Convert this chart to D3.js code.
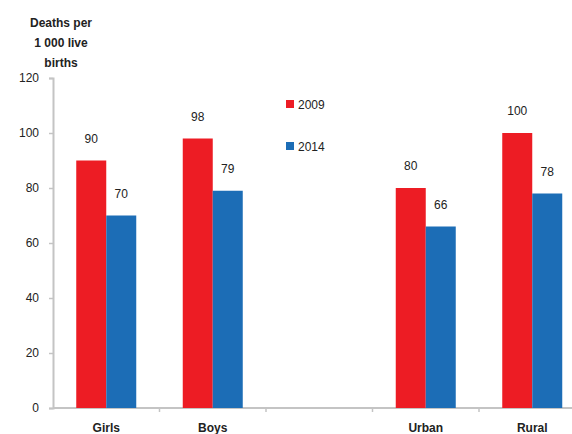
<!DOCTYPE html>
<html><head><meta charset="utf-8">
<script src="https://cdn.jsdelivr.net/npm/d3@7"></script>
<style>body{margin:0;background:#fff}svg{display:block}text{font-family:"Liberation Sans",Arial,sans-serif;fill:#222}</style>
</head><body>
<svg id="c" width="572" height="434"></svg>
<script>
const categories = ["Girls", "Boys", "", "Urban", "Rural"];
const series = ["2009", "2014"];
const values2009 = [90, 98, null, 80, 100];
const values2014 = [70, 79, null, 66, 78];
const yTicks = [0, 20, 40, 60, 80, 100, 120];
const colors = ["#ED1C24", "#1C6DB6"];
const titleLines = ["Deaths per", "1 000 live", "births"];

const svg = d3.select("#c");
const x0 = 53, x1 = 585.5, yTop = 78, yBot = 408;
const x = d3.scaleBand().domain(categories.map((c,i)=>i)).range([x0, x1]).padding(0);
const y = d3.scaleLinear().domain([0, 120]).range([yBot, yTop]);
const barW = 30;
const xs = d3.scaleBand().domain(series).range([-barW, barW]);

// y axis
const yAxis = d3.axisLeft(y).tickValues(yTicks).tickSize(4).tickPadding(10).tickFormat(d3.format("d"));
const gy = svg.append("g").attr("transform", `translate(${x0},0)`).call(yAxis);
gy.select(".domain").attr("stroke", "#c4c4c4").attr("stroke-width", 2);
gy.selectAll(".tick line").attr("stroke", "#c4c4c4").attr("stroke-width", 1.5);
gy.selectAll(".tick text").attr("font-size", 12).style("font-family", '"Liberation Sans",Arial,sans-serif').attr("fill", "#222");

// x axis
const gx = svg.append("g").attr("transform", `translate(0,${yBot})`);
gx.append("line").attr("x1", x0).attr("x2", x1).attr("stroke", "#c4c4c4").attr("stroke-width", 2);
gx.selectAll(".xt").data(categories.map((c,i)=>i)).join("line")
  .attr("x1", d => x(d) + x.bandwidth()).attr("x2", d => x(d) + x.bandwidth())
  .attr("y1", 0).attr("y2", 4).attr("stroke", "#c4c4c4").attr("stroke-width", 1.5);
gx.selectAll(".xl").data(categories).join("text")
  .attr("x", (d,i) => x(i) + x.bandwidth()/2).attr("y", 23.5)
  .attr("text-anchor", "middle").attr("font-size", 12).attr("font-weight", "bold").text(d => d);

// bars
const data = [values2009, values2014];
series.forEach((s, si) => {
  const vals = data[si];
  const g = svg.append("g");
  const items = vals.map((v,i)=>({v,i})).filter(d => d.v != null);
  g.selectAll("rect").data(items).join("rect")
    .attr("x", d => x(d.i) + x.bandwidth()/2 + xs(s))
    .attr("y", d => y(d.v)).attr("width", xs.bandwidth())
    .attr("height", d => yBot - y(d.v)).attr("fill", colors[si]);
  g.selectAll("text").data(items).join("text")
    .attr("x", d => x(d.i) + x.bandwidth()/2 + xs(s) + xs.bandwidth()/2)
    .attr("y", d => y(d.v) - 18).attr("text-anchor", "middle")
    .attr("font-size", 12).text(d => d.v);
});

// legend
series.forEach((s, si) => {
  const ly = 104 + si * 42;
  svg.append("rect").attr("x", 286).attr("y", ly - 4).attr("width", 8).attr("height", 8).attr("fill", colors[si]);
  svg.append("text").attr("x", 298).attr("y", ly + 4.5).attr("font-size", 12).text(s);
});

// y title
svg.append("g").selectAll("text").data(titleLines).join("text")
  .attr("x", 61).attr("y", (d,i) => 27 + i * 20).attr("text-anchor", "middle")
  .attr("font-size", 12).attr("font-weight", "bold").text(d => d);
</script>
</body></html>
